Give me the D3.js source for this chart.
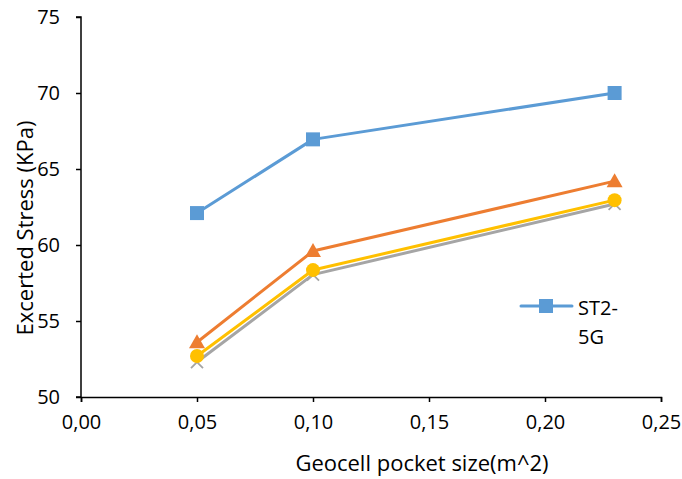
<!DOCTYPE html>
<html><head><meta charset="utf-8">
<script src="https://cdn.jsdelivr.net/npm/d3@7"></script>
<style>body{margin:0;background:#fff}text{font-family:"Open Sans",Carlito,Calibri,sans-serif;fill:#000}</style>
</head><body><svg id="c" width="682" height="479"></svg>
<script>
const xValues = [0.05, 0.10, 0.23];
const seriesNames = ["ST2-5G", "S2", "S3", "S4"];
const blueValues = [62.1, 66.95, 70.0];
const orangeValues = [53.6, 59.6, 64.2];
const grayValues = [52.3, 58.05, 62.7];
const yellowValues = [52.7, 58.35, 62.95];
const xTicks = [0, 0.05, 0.10, 0.15, 0.20, 0.25];
const yTicks = [50, 55, 60, 65, 70, 75];

const svg = d3.select("#c");
const m = {l: 81, r: 661, t: 17, b: 397};
const x = d3.scaleLinear().domain([0, 0.25]).range([m.l, m.r]);
const y = d3.scaleLinear().domain([50, 75]).range([m.b, m.t]);

const xa = svg.append("g").attr("transform", `translate(0,${m.b})`)
  .call(d3.axisBottom(x).tickValues(xTicks).tickSize(5).tickPadding(13)
  .tickFormat(d => d3.format(".2f")(d).replace(".", ",")));
const ya = svg.append("g").attr("transform", `translate(${m.l},0)`)
  .call(d3.axisLeft(y).tickValues(yTicks).tickSize(5).tickPadding(16));
[xa, ya].forEach(a => {
  a.select(".domain").attr("stroke", "#000").attr("stroke-width", 1.5);
  a.selectAll(".tick line").attr("stroke", "#000").attr("stroke-width", 1.5);
  a.selectAll("text").style("font-size", "20px").attr("fill", "#000");
});
ya.select(".domain").attr("d", `M-5,${m.b}H0V${m.t}H-5`);

const series = [
  {name: seriesNames[0], vals: blueValues, color: "#5B9BD5", marker: "square"},
  {name: seriesNames[1], vals: orangeValues, color: "#ED7D31", marker: "triangle"},
  {name: seriesNames[2], vals: grayValues, color: "#A5A5A5", marker: "x"},
  {name: seriesNames[3], vals: yellowValues, color: "#FFC000", marker: "circle"}
];
const line = d3.line().x(d => x(d[0])).y(d => y(d[1]));

function drawMarker(g, type, cx, cy, color) {
  if (type === "square") {
    g.append("rect").attr("x", cx - 7).attr("y", cy - 7).attr("width", 14).attr("height", 14).attr("fill", color);
  } else if (type === "triangle") {
    g.append("path").attr("d", `M${cx},${cy - 8}L${cx + 8},${cy + 6}L${cx - 8},${cy + 6}Z`).attr("fill", color);
  } else if (type === "circle") {
    g.append("circle").attr("cx", cx).attr("cy", cy).attr("r", 7).attr("fill", color);
  } else {
    g.append("path").attr("d", `M${cx - 6},${cy - 6}L${cx + 6},${cy + 6}M${cx - 6},${cy + 6}L${cx + 6},${cy - 6}`)
      .attr("stroke", color).attr("stroke-width", 1.8);
  }
}

series.forEach(s => {
  const pts = xValues.map((xv, i) => [xv, s.vals[i]]);
  const g = svg.append("g");
  g.append("path").datum(pts).attr("d", line).attr("fill", "none")
    .attr("stroke", s.color).attr("stroke-width", 3).attr("stroke-linejoin", "round");
  pts.forEach(p => drawMarker(g, s.marker, x(p[0]), y(p[1]), s.color));
});

// legend (only first entry visible)
const lg = svg.append("g");
lg.append("line").attr("x1", 521).attr("x2", 572).attr("y1", 306).attr("y2", 306)
  .attr("stroke", series[0].color).attr("stroke-width", 3).attr("stroke-linecap", "round");
drawMarker(lg, "square", 546, 306, series[0].color);
lg.append("text").attr("x", 578).attr("y", 315).style("font-size", "20px").text("ST2-");
lg.append("text").attr("x", 578).attr("y", 344).style("font-size", "20px").text("5G");

svg.append("text").attr("x", 422).attr("y", 471).attr("text-anchor", "middle")
  .style("font-size", "22px").text("Geocell pocket size(m^2)");
svg.append("text").attr("transform", `translate(33,228) rotate(-90)`)
  .attr("text-anchor", "middle").style("font-size", "22px").text("Excerted Stress (KPa)");
</script></body></html>
